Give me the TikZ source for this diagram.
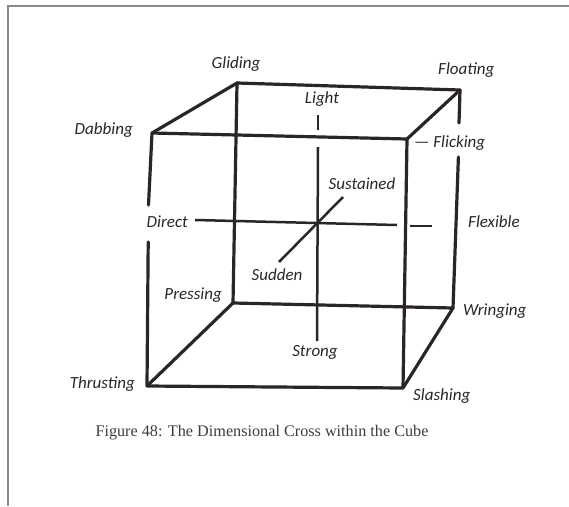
\documentclass[tikz,border=0pt]{standalone}
\usepackage{fontspec}
\newfontfamily\labelfont{Carlito}
\newfontfamily\capfont{Liberation Serif}
\definecolor{ink}{HTML}{2B2626}
\definecolor{framegrey}{HTML}{8A8A8A}
\tikzset{
  edge/.style={draw=ink, line width=3.2pt, line cap=round, line join=round},
  crossline/.style={draw=ink, line width=2.5pt},
  lbl/.style={inner sep=0pt, text=ink, font=\labelfont\itshape\fontsize{17}{19}\selectfont},
  captext/.style={inner sep=0pt, text=ink!90, font=\capfont\fontsize{16.2}{19}\selectfont}
}
\begin{document}
\begin{tikzpicture}[x=1pt,y=-1pt]
\useasboundingbox (0,0) rectangle (569,506);
\fill[white] (0,0) rectangle (569,506);
% frame
\coordinate (frTop) at (569,6);
\coordinate (frCorner) at (8,6);
\coordinate (frBot) at (8,506);
\draw[framegrey, line width=2pt] (frTop) -- (frCorner) -- (frBot);
% cube corners
\coordinate (FTL) at (152,133);
\coordinate (FTR) at (407,139);
\coordinate (FBR) at (403,388);
\coordinate (FBL) at (147,386);
\coordinate (BTL) at (237,83);
\coordinate (BTR) at (460,90);
\coordinate (BBR) at (453,308);
\coordinate (BBL) at (233,303);
% gap coordinates
\coordinate (gLa) at (148.5,205);
\coordinate (gLb) at (148.2,242);
\coordinate (gRa) at (459,123);
\coordinate (gRb) at (458.4,157);
% back edges
\draw[edge] (BTL) -- (BTR);
\draw[edge] (BTR) -- (gRa);
\draw[edge] (gRb) -- (BBR);
\draw[edge] (BBR) -- (BBL) -- (BTL);
% connecting edges
\draw[edge] (FTL) -- (BTL);
\draw[edge] (FTR) -- (BTR);
\draw[edge] (FBR) -- (BBR);
\draw[edge] (FBL) -- (BBL);
% front face
\draw[edge] (gLa) -- (FTL) -- (FTR) -- (FBR) -- (FBL) -- (gLb);
% dimensional cross
\coordinate (Ltop) at (318,115);
\coordinate (Lbot) at (318,130);
\coordinate (Vtop) at (318,147);
\coordinate (Vbot) at (317,341);
\coordinate (Hl) at (195,220);
\coordinate (Hr) at (397,225);
\coordinate (Dl) at (410,226);
\coordinate (Dr) at (432,226);
\coordinate (Sl) at (279,262);
\coordinate (Sr) at (343,197);
\draw[crossline] (Ltop) -- (Lbot);
\draw[crossline] (Vtop) -- (Vbot);
\draw[crossline] (Hl) -- (Hr);
\draw[crossline] (Dl) -- (Dr);
\draw[crossline] (Sl) -- (Sr);
% labels
\node[lbl] (gliding) at (236,64) {Gliding};
\node[lbl, anchor=west] (floating) at (438,70) {Floating};
\node[lbl, anchor=east] (dabbing) at (133,130) {Dabbing};
\node[lbl] (light) at (322,99) {Light};
\node[lbl, anchor=west] (flicking) at (414,143) {— Flicking};
\node[lbl] (sustained) at (362,184) {Sustained};
\node[lbl, anchor=east] (direct) at (188,222) {Direct};
\node[lbl, anchor=west] (flexible) at (468,222) {Flexible};
\node[lbl] (sudden) at (277,275) {Sudden};
\node[lbl, anchor=east] (pressing) at (222,295) {Pressing};
\node[lbl, anchor=west] (wringing) at (463,311) {Wringing};
\node[lbl] (strong) at (315,352) {Strong};
\node[lbl, anchor=east] (thrusting) at (135,384) {Thrusting};
\node[lbl, anchor=west] (slashing) at (413,396) {Slashing};
\node[captext] (caption) at (262,433) {Figure 48: The Dimensional Cross within the Cube};
\end{tikzpicture}
\end{document}
